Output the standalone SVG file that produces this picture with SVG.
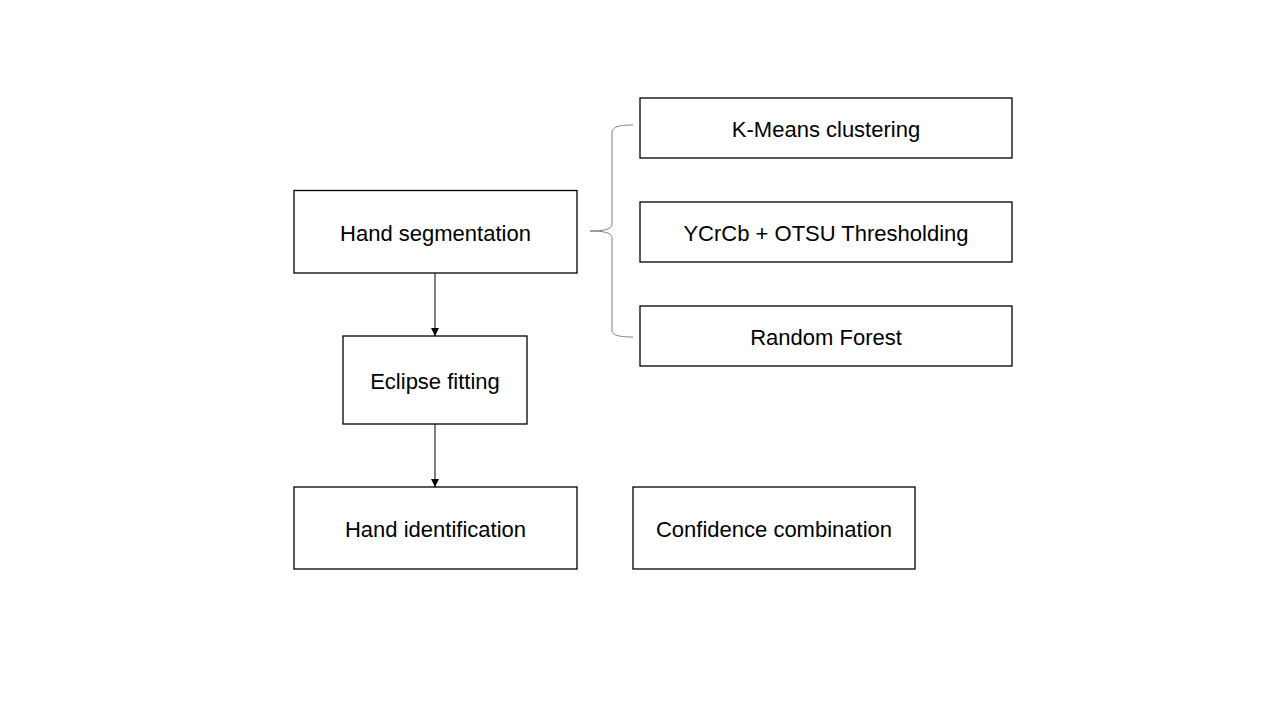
<svg xmlns="http://www.w3.org/2000/svg" width="1280" height="720" viewBox="0 0 1280 720">
<style>
.box{fill:#fff;stroke:#000;stroke-width:1.3}
.t{font-family:"Liberation Sans",Arial,sans-serif;font-size:22px;fill:#000;text-anchor:middle;dominant-baseline:central}
.c{fill:none;stroke:#000;stroke-width:1}
.brace{fill:none;stroke:#7f7f7f;stroke-width:1}
</style>
<defs>
<marker id="ah" markerWidth="8" markerHeight="8" refX="8" refY="4" orient="auto" markerUnits="userSpaceOnUse">
<path d="M0,0 L8,4 L0,8 Z" fill="#000"/>
</marker>
</defs>
<rect width="1280" height="720" fill="#fff"/>
<g id="connectors">
<line class="c" x1="435" y1="273" x2="435" y2="336" marker-end="url(#ah)"/>
<line class="c" x1="435" y1="424" x2="435" y2="487" marker-end="url(#ah)"/>
<path class="brace" d="M633,125 C618,125 612,127 612,133 L612,224 C612,229 605,231 590,231 C605,231 612,233 612,238 L612,330 C612,335 618,337 633,337"/>
</g>
<g id="hand-seg"><rect class="box" x="294" y="190.5" width="283" height="82.5"/><text class="t" x="435.5" y="233">Hand segmentation</text></g>
<g id="eclipse"><rect class="box" x="343" y="336" width="184" height="88"/><text class="t" x="435" y="381">Eclipse fitting</text></g>
<g id="hand-id"><rect class="box" x="294" y="487" width="283" height="82"/><text class="t" x="435.5" y="529">Hand identification</text></g>
<g id="confidence"><rect class="box" x="633" y="487" width="282" height="82"/><text class="t" x="774" y="529">Confidence combination</text></g>
<g id="kmeans"><rect class="box" x="640" y="98" width="372" height="60"/><text class="t" x="826" y="129">K-Means clustering</text></g>
<g id="ycrcb"><rect class="box" x="640" y="202" width="372" height="60"/><text class="t" x="826" y="233">YCrCb + OTSU Thresholding</text></g>
<g id="rf"><rect class="box" x="640" y="306" width="372" height="60"/><text class="t" x="826" y="337">Random Forest</text></g>
</svg>
